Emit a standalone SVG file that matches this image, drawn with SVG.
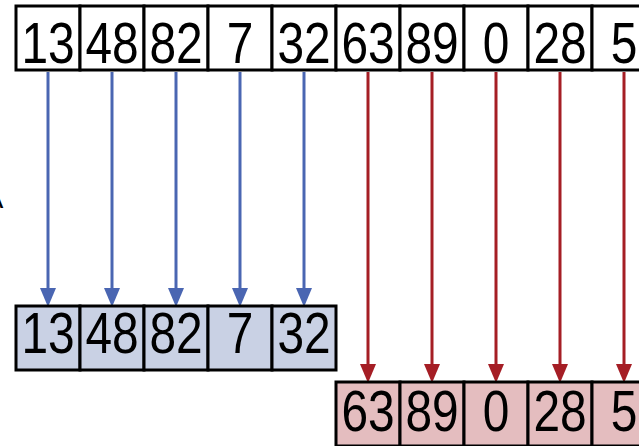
<svg xmlns="http://www.w3.org/2000/svg" width="639" height="446" viewBox="0 0 639 446">
<defs>
<style>
.box{fill:#ffffff;stroke:#000;stroke-width:3}
.bb{fill:#c9d1e4;stroke:#000;stroke-width:3}
.rb{fill:#e4bdbf;stroke:#000;stroke-width:3}
.t{font-family:"Liberation Sans",Arial,sans-serif;font-size:57px;fill:#000;text-anchor:middle}
.ba{stroke:#4a66b2;stroke-width:3;fill:none}
.ra{stroke:#a51e25;stroke-width:3;fill:none}
</style>
</defs>
<text x="-16" y="208" style="font-family:'Liberation Sans',Arial,sans-serif;font-size:29px;fill:#000">A</text>
<g id="top">
<rect class="box" x="16" y="6" width="64" height="64"/><text class="t" transform="translate(48 63) scale(0.84 1)">13</text>
<rect class="box" x="80" y="6" width="64" height="64"/><text class="t" transform="translate(112 63) scale(0.84 1)">48</text>
<rect class="box" x="144" y="6" width="64" height="64"/><text class="t" transform="translate(176 63) scale(0.84 1)">82</text>
<rect class="box" x="208" y="6" width="64" height="64"/><text class="t" transform="translate(240 63) scale(0.84 1)">7</text>
<rect class="box" x="272" y="6" width="64" height="64"/><text class="t" transform="translate(304 63) scale(0.84 1)">32</text>
<rect class="box" x="336" y="6" width="64" height="64"/><text class="t" transform="translate(368 63) scale(0.84 1)">63</text>
<rect class="box" x="400" y="6" width="64" height="64"/><text class="t" transform="translate(432 63) scale(0.84 1)">89</text>
<rect class="box" x="464" y="6" width="64" height="64"/><text class="t" transform="translate(496 63) scale(0.84 1)">0</text>
<rect class="box" x="528" y="6" width="64" height="64"/><text class="t" transform="translate(560 63) scale(0.84 1)">28</text>
<rect class="box" x="592" y="6" width="64" height="64"/><text class="t" transform="translate(624 63) scale(0.84 1)">5</text>
</g>
<g id="connectors">
<g class="ba">
<line x1="48" y1="72" x2="48" y2="290"/>
<line x1="112" y1="72" x2="112" y2="290"/>
<line x1="176" y1="72" x2="176" y2="290"/>
<line x1="240" y1="72" x2="240" y2="290"/>
<line x1="304" y1="72" x2="304" y2="290"/>
</g>
<g fill="#4a66b2">
<path d="M40,288 L56,288 L48,307 Z"/>
<path d="M104,288 L120,288 L112,307 Z"/>
<path d="M168,288 L184,288 L176,307 Z"/>
<path d="M232,288 L248,288 L240,307 Z"/>
<path d="M296,288 L312,288 L304,307 Z"/>
</g>
<g class="ra">
<line x1="368" y1="72" x2="368" y2="366"/>
<line x1="432" y1="72" x2="432" y2="366"/>
<line x1="496" y1="72" x2="496" y2="366"/>
<line x1="560" y1="72" x2="560" y2="366"/>
<line x1="624" y1="72" x2="624" y2="366"/>
</g>
<g fill="#a51e25">
<path d="M360,364 L376,364 L368,383 Z"/>
<path d="M424,364 L440,364 L432,383 Z"/>
<path d="M488,364 L504,364 L496,383 Z"/>
<path d="M552,364 L568,364 L560,383 Z"/>
<path d="M616,364 L632,364 L624,383 Z"/>
</g>
</g>
<g id="left">
<rect class="bb" x="16" y="306" width="64" height="64"/><text class="t" transform="translate(48 353) scale(0.84 1)">13</text>
<rect class="bb" x="80" y="306" width="64" height="64"/><text class="t" transform="translate(112 353) scale(0.84 1)">48</text>
<rect class="bb" x="144" y="306" width="64" height="64"/><text class="t" transform="translate(176 353) scale(0.84 1)">82</text>
<rect class="bb" x="208" y="306" width="64" height="64"/><text class="t" transform="translate(240 353) scale(0.84 1)">7</text>
<rect class="bb" x="272" y="306" width="64" height="64"/><text class="t" transform="translate(304 353) scale(0.84 1)">32</text>
</g>
<g id="right">
<rect class="rb" x="336" y="382" width="64" height="64"/><text class="t" transform="translate(368 431) scale(0.84 1)">63</text>
<rect class="rb" x="400" y="382" width="64" height="64"/><text class="t" transform="translate(432 431) scale(0.84 1)">89</text>
<rect class="rb" x="464" y="382" width="64" height="64"/><text class="t" transform="translate(496 431) scale(0.84 1)">0</text>
<rect class="rb" x="528" y="382" width="64" height="64"/><text class="t" transform="translate(560 431) scale(0.84 1)">28</text>
<rect class="rb" x="592" y="382" width="64" height="64"/><text class="t" transform="translate(624 431) scale(0.84 1)">5</text>
</g>
</svg>
